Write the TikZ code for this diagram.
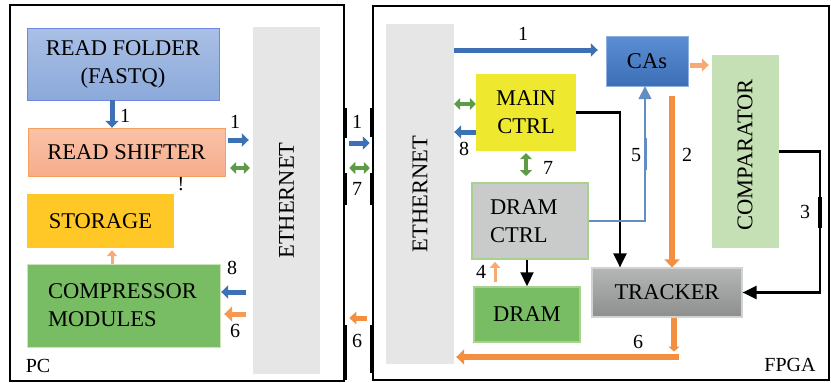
\documentclass[tikz,border=0pt]{standalone}
\usepackage{fontspec}
\setmainfont{Liberation Serif}
\usetikzlibrary{arrows.meta}

\begin{document}
\begin{tikzpicture}[x=1pt,y=-1pt,
	box/.style={inner sep=0pt,align=center,font=\fontsize{22.5}{28}\selectfont},
	bar/.style={fill=ethgray,inner sep=0pt},
	num/.style={inner sep=0pt,font=\fontsize{20}{22}\selectfont},
	bluearr/.style={draw=arrblue,line width=5pt,-{Triangle[width=13pt,length=7pt]}},
	grnarr/.style={draw=arrgreen,line width=4pt,{Triangle[width=12pt,length=6pt]}-{Triangle[width=12pt,length=6pt]}},
	orarr/.style={draw=arrorange,line width=6pt,-{Triangle[width=15pt,length=8pt]}},
	orlight/.style={draw=lightorange,line width=3pt,-{Triangle[width=10pt,length=6pt]}},
	blk/.style={draw=black,line width=2.2pt,-{Triangle[width=13pt,length=14pt]}},
	thickseg/.style={line width=3.5pt}]
\definecolor{arrblue}{HTML}{3C72B5}
\definecolor{arrgreen}{HTML}{5E9B46}
\definecolor{arrorange}{HTML}{F48F42}
\definecolor{lightorange}{HTML}{F7AA76}
\definecolor{ethgray}{HTML}{E6E6E6}
\definecolor{foldtop}{HTML}{AAC0E6}
\definecolor{foldbot}{HTML}{8BA9DA}
\definecolor{shifttop}{HTML}{FAC2A8}
\definecolor{shiftbot}{HTML}{F6AD8C}
\definecolor{storefill}{HTML}{FFC826}
\definecolor{greenfill}{HTML}{78BC64}
\definecolor{greenline}{HTML}{A9D18E}
\definecolor{castop}{HTML}{5B8ED3}
\definecolor{casbot}{HTML}{3D6FB7}
\definecolor{comparfill}{HTML}{C5E0B4}
\definecolor{mainfill}{HTML}{EEE82E}
\definecolor{dramgray}{HTML}{C9CACA}
\definecolor{tracktop}{HTML}{B5B6B6}
\definecolor{trackbot}{HTML}{8D8E8E}
	\useasboundingbox (0,0) rectangle (831,383);
	% outer boxes
	\node[draw,line width=2.5pt,inner sep=0pt,minimum width=334pt,minimum height=376pt] (pc) at (177,193) {};
	\node[draw,line width=2.5pt,inner sep=0pt,minimum width=456pt,minimum height=374pt] (fpga) at (601,193) {};
	\draw[thickseg] (pc.east |- 0,108) -- (pc.east |- 0,138);
	\draw[thickseg] (pc.east |- 0,173) -- (pc.east |- 0,205);
	\draw[thickseg] (pc.east |- 0,325) -- (pc.east |- 0,380);
	\draw[thickseg] (fpga.west |- 0,108) -- (fpga.west |- 0,137);
	\draw[thickseg] (fpga.west |- 0,173) -- (fpga.west |- 0,205);
	\draw[thickseg] (fpga.west |- 0,325) -- (fpga.west |- 0,373);
	\node[font=\fontsize{20}{22}\selectfont,inner sep=0pt] (pclabel) at (38,366) {PC};
	\node[font=\fontsize{20}{22}\selectfont,inner sep=0pt] (fpgalabel) at (790,365) {FPGA};
	% PC side
	\node[box,draw=foldbot!80!blue,top color=foldtop,bottom color=foldbot,minimum width=192pt,minimum height=72pt] (rfold) at (123,64) {READ FOLDER\\(FASTQ)};
	\node[box,draw=arrorange!85!white,top color=shifttop,bottom color=shiftbot,minimum width=197pt,minimum height=48pt] (rshift) at (126.5,152) {READ SHIFTER};
	\node[box,fill=storefill,minimum width=147pt,minimum height=54pt] (storage) at (100.5,221) {STORAGE};
	\node[box,fill=greenfill,draw=greenline!60!white,align=left,text width=151pt,inner xsep=21pt,minimum height=83pt] (comp) at (123.5,305.5) {COMPRESSOR\\MODULES};
	\node[bar,minimum width=67pt,minimum height=347pt] (pceth) at (286.5,200.5) {};
	\node[box,rotate=90] (pcethtext) at (pceth.center) {ETHERNET};
	\draw[bluearr] (rfold.south -| 112,0) -- (rshift.north -| 112,0);
	\node[num] (n1a) at (125,116) {1};
	\draw[bluearr] ([xshift=3pt]rshift.east |- 0,140) -- ([xshift=-4pt]pceth.west |- 0,140);
	\node[num] (n1b) at (235,122) {1};
	\draw[grnarr] ([xshift=5pt]rshift.east |- 0,168) -- ([xshift=-3pt]pceth.west |- 0,168);
	\node[num] (bang) at (181,184) {!};
	\draw[orlight] (comp.north -| 112,0) -- ([yshift=-2pt]storage.south -| 112,0);
	\draw[bluearr] ([xshift=-7pt]pceth.west |- 0,292) -- ([xshift=1pt]comp.east |- 0,292);
	\node[num] (n8a) at (232,268) {8};
	\draw[orarr,draw=arrorange!90!white,line width=5pt] ([xshift=-7pt]pceth.west |- 0,314) -- ([xshift=4pt]comp.east |- 0,314);
	\node[num] (n6a) at (235,331) {6};
	% between PC and FPGA
	\draw[bluearr] ([xshift=4pt]pc.east |- 0,143) -- ([xshift=-2pt]fpga.west |- 0,143);
	\node[num] (n1c) at (357,122) {1};
	\draw[grnarr] ([xshift=4pt]pc.east |- 0,168) -- ([xshift=-2pt]fpga.west |- 0,168);
	\node[num] (n7a) at (357,189) {7};
	\draw[orarr,line width=5pt,-{Triangle[width=12pt,length=7pt]}] ([xshift=-5pt]fpga.west |- 0,318) -- ([xshift=4pt]pc.east |- 0,318);
	\node[num] (n6b) at (357,341) {6};
	% FPGA side
	\node[bar,minimum width=68pt,minimum height=340pt] (feth) at (420,194) {};
	\node[box,rotate=90] (fethtext) at (feth.center) {ETHERNET};
	\node[box,draw=castop!70!white,top color=castop,bottom color=casbot,minimum width=82pt,minimum height=50pt] (cas) at (647,61) {CAs};
	\node[box,fill=comparfill,minimum width=67pt,minimum height=193pt] (compar) at (745.5,151.5) {};
	\node[box,rotate=90] (compartext) at (745,155) {COMPARATOR};
	\node[box,fill=mainfill,minimum width=100pt,minimum height=77pt] (mainctrl) at (526,112.5) {MAIN\\CTRL};
	\node[box,fill=dramgray,draw=greenline,line width=1.5pt,align=left,text width=80pt,inner xsep=18pt,minimum height=76pt] (dramctrl) at (530,221) {DRAM\\CTRL};
	\node[box,fill=greenfill,draw=greenline,line width=1.5pt,minimum width=106pt,minimum height=55pt] (dram) at (527,314.5) {DRAM};
	\node[box,draw=trackbot!40!white,line width=1.2pt,top color=tracktop,bottom color=trackbot,minimum width=150pt,minimum height=49pt] (tracker) at (667,292.5) {TRACKER};
	\draw[bluearr] (feth.east |- 0,50) -- ([xshift=-8pt]cas.west |- 0,50);
	\node[num] (n1d) at (523,34) {1};
	\draw[orlight,line width=5pt,-{Triangle[width=13pt,length=7pt]}] ([xshift=2pt]cas.east |- 0,65) -- ([xshift=-3pt]compar.west |- 0,65);
	\draw[blk] (compar.east) -- ++(41,0) |- (tracker.east);
	\draw[thickseg] (820,197) -- (820,228);
	\node[num] (n3) at (805,212) {3};
	\draw[blk] (mainctrl.east) -| ([xshift=-47pt]tracker.north);
	\coordinate (top2) at (672,96);
	\draw[orarr] (top2) -- (top2 |- tracker.north);
	\node[num] (n2) at (687,155) {2};
	\draw[draw=arrblue!80!white,line width=1.5pt,-{Triangle[width=13pt,length=13pt]}] (dramctrl.east) -| ([xshift=-2pt]cas.south);
	\draw[draw=arrblue!80!white,line width=3pt] (645,138) -- (645,170);
	\node[num] (n5) at (636,155) {5};
	\draw[grnarr] (feth.east |- 0,104) -- (mainctrl.west |- 0,104);
	\draw[bluearr] (mainctrl.west |- 0,132) -- (feth.east |- 0,132);
	\node[num] (n8b) at (464,149) {8};
	\draw[grnarr] ([yshift=-2pt]mainctrl.south) -- (mainctrl.south |- 0,176);
	\node[num] (n7b) at (548,168) {7};
	\draw[blk] (dramctrl.south -| dram.north) -- (dram.north);
	\draw[orlight] ([yshift=4pt]dram.north -| 495,0) -- ([yshift=-2pt]dramctrl.south -| 495,0);
	\node[num] (n4) at (481,272) {4};
	\draw[orarr,line width=5.5pt,-{Triangle[width=11pt,length=5pt]}] ([xshift=7pt]tracker.south) -- ++(0,34);
	\coordinate (bot6) at (679,357);
	\draw[orarr] (bot6) -- ([xshift=2pt]feth.east |- bot6);
	\node[num] (n6c) at (638,342) {6};
\end{tikzpicture}
\end{document}
